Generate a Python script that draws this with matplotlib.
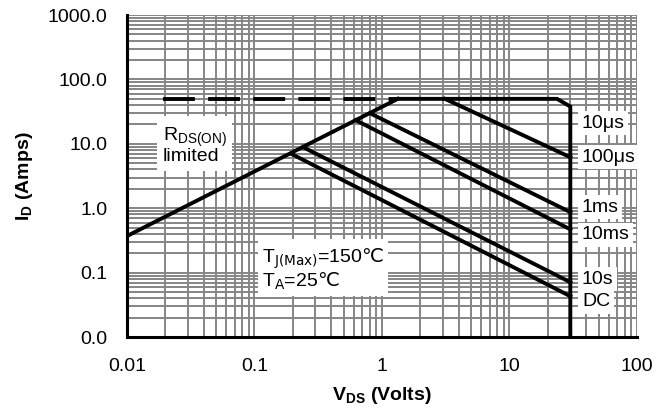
import matplotlib
matplotlib.use("Agg")
import matplotlib.pyplot as plt

plt.rcParams['font.family'] = ['Liberation Sans', 'DejaVu Sans']
plt.rcParams['mathtext.fontset'] = 'custom'
plt.rcParams['mathtext.rm'] = 'Liberation Sans'
plt.rcParams['mathtext.bf'] = 'Liberation Sans:bold'
plt.rcParams['mathtext.it'] = 'Liberation Sans:italic'

# safe operating area curves
rds_v = [0.01, 1.33]
rds_i = [0.37, 50]
dash_v = [0.019, 1.33]
dash_i = [50, 50]
us10_v = [1.33, 23.6, 30, 30]
us10_i = [50, 50, 38, 0.01]
us100_v = [3.12, 30]
us100_i = [50, 6.2]
ms1_v = [0.805, 30]
ms1_i = [29.9, 0.87]
ms10_v = [0.625, 30]
ms10_i = [23.2, 0.47]
s10_v = [0.24, 30]
s10_i = [8.9, 0.071]
dc_v = [0.197, 30]
dc_i = [6.9, 0.043]

curve_labels = ["10\u03bcs", "100\u03bcs", "1ms", "10ms", "10s", "DC"]
label_i = [20.9, 6.2, 1.04, 0.39, 0.079, 0.035]
label_v = 37

yticks = [0.01, 0.1, 1, 10, 100, 1000]
ytick_labels = ["0.0", "0.1", "1.0", "10.0", "100.0", "1000.0"]
xticks = [0.01, 0.1, 1, 10, 100]
xtick_labels = ["0.01", "0.1", "1", "10", "100"]

fig = plt.figure(figsize=(6.56, 4.08), dpi=100)
ax = fig.add_axes([0.1936, 0.174, 0.7774, 0.789])
ax.set_xscale("log")
ax.set_yscale("log")
ax.set_xlim(0.01, 100)
ax.set_ylim(0.01, 1000)

ax.grid(True, which="both", color="#858585", linewidth=1.4)
ax.set_axisbelow(True)

lw = 2.8
ax.plot(dash_v, dash_i, color="black", linewidth=lw, dashes=(8.2, 3.4))
for v, i in [(rds_v, rds_i), (us10_v, us10_i), (us100_v, us100_i),
             (ms1_v, ms1_i), (ms10_v, ms10_i), (s10_v, s10_i), (dc_v, dc_i)]:
    ax.plot(v, i, color="black", linewidth=lw, solid_joinstyle="miter")

box = dict(facecolor="white", edgecolor="none", pad=2.5)
for lab, y in zip(curve_labels, label_i):
    ax.text(label_v, y, lab, fontsize=14, va="center", ha="left", bbox=box)

ax.text(0.0191, 9.5, "R$_{\\mathrm{DS(ON)}}$\nlimited", fontsize=14,
        va="center", ha="left", linespacing=0.95,
        bbox=dict(facecolor="white", edgecolor="none", pad=4))
ax.text(0.115, 0.113,
        "T$_{\\mathrm{J(Max)}}$=150$\\mathrm{\u2103}$\nT$_{\\mathrm{A}}$=25$\\mathrm{\u2103}$",
        fontsize=14, va="center", ha="left", linespacing=1.0,
        math_fontfamily="dejavusans",
        bbox=dict(facecolor="white", edgecolor="none", pad=3))

ax.set_xticks(xticks)
ax.set_xticklabels(xtick_labels)
ax.set_yticks(yticks)
ax.set_yticklabels(ytick_labels)
ax.tick_params(which="both", length=0, labelsize=14)
ax.tick_params(axis="x", pad=15)
ax.tick_params(axis="y", pad=14)

for s in ["top", "right"]:
    ax.spines[s].set_visible(False)
for s in ["left", "bottom"]:
    ax.spines[s].set_linewidth(2.2)
    ax.spines[s].set_color("black")

ax.set_xlabel("V$_{\\mathbf{DS}}$ (Volts)", fontsize=14, fontweight="bold", labelpad=7)
ax.set_ylabel("I$_{\\mathbf{D}}$ (Amps)", fontsize=14, fontweight="bold", labelpad=9)

fig.savefig("out.png", dpi=100)
